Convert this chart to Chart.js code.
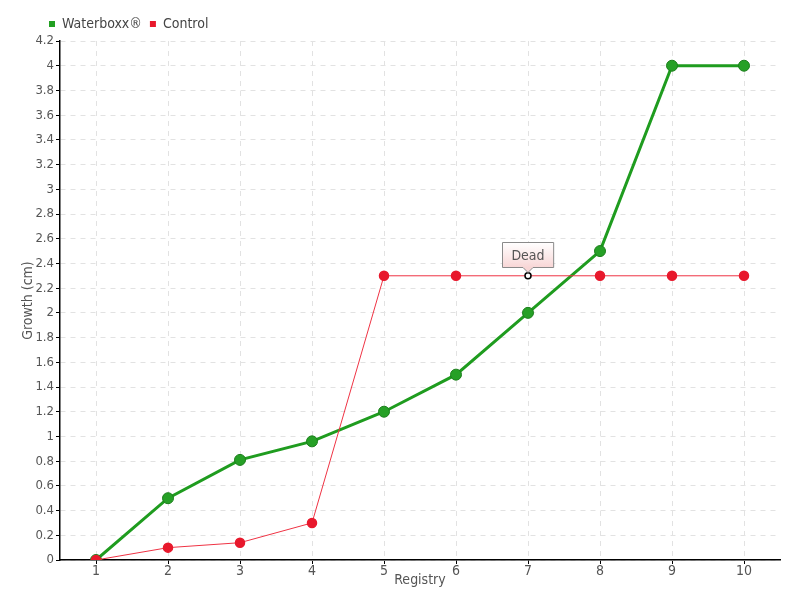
<!DOCTYPE html>
<html lang="en">
<head>
    <meta charset="UTF-8">
    <title>Waterboxx growth</title>
    <script src="https://cdn.jsdelivr.net/npm/chart.js"></script>
    <style>
        html, body { margin: 0; padding: 0; background: #fff; }
        #wrap { width: 800px; height: 600px; }
    </style>
</head>
<body>
    <div id="wrap"><canvas id="growthChart"></canvas></div>

    <script>
        const registry = ["1", "2", "3", "4", "5", "6", "7", "8", "9", "10"];
        const waterboxx = [0, 0.5, 0.81, 0.96, 1.2, 1.5, 2.0, 2.5, 4.0, 4.0];
        const control = [0, 0.1, 0.14, 0.3, 2.3, 2.3, 2.3, 2.3, 2.3, 2.3];
        const noteIndex = 6;
        const noteText = "Dead";

        const fontFamily = "'Liberation Sans Narrow', 'DejaVu Sans Condensed', 'DejaVu Sans', sans-serif";

        // hollow marker on the "Dead" point
        const controlFill = control.map((v, i) => i === noteIndex ? "#ffffff" : "#e8182c");
        const controlBorder = control.map((v, i) => i === noteIndex ? "#000000" : "#e8182c");
        const controlRadius = control.map((v, i) => i === noteIndex ? 3 : 4.5);

        // draws the little callout over the control point
        const notePlugin = {
            id: "note",
            afterLayout(chart) {
                // legend starts a bit in from the left edge
                chart.legend.left += 41;
                chart.legend.right += 41;
            },
            afterDatasetsDraw(chart) {
                const ctx = chart.ctx;
                const x = chart.scales.x.getPixelForValue(noteIndex);
                const y = chart.scales.y.getPixelForValue(control[noteIndex]);
                ctx.save();
                ctx.font = "14px " + fontFamily;
                const w = ctx.measureText(noteText).width + 18;
                const h = 25;
                const left = Math.round(x - w / 2) + 0.5, top = Math.round(y - 9 - h) + 0.5;
                const grad = ctx.createLinearGradient(0, top, 0, top + h);
                grad.addColorStop(0, "#ffffff");
                grad.addColorStop(1, "#f8d6d6");
                ctx.beginPath();
                ctx.moveTo(left, top);
                ctx.lineTo(left + w, top);
                ctx.lineTo(left + w, top + h);
                ctx.lineTo(x + 5, top + h);
                ctx.lineTo(x, top + h + 5);
                ctx.lineTo(x - 5, top + h);
                ctx.lineTo(left, top + h);
                ctx.closePath();
                ctx.fillStyle = grad;
                ctx.fill();
                ctx.strokeStyle = "#8a8a8a";
                ctx.lineWidth = 1;
                ctx.stroke();
                ctx.fillStyle = "#555";
                ctx.textAlign = "center";
                ctx.textBaseline = "middle";
                ctx.fillText(noteText, x, top + h / 2 + 1);
                ctx.restore();
            }
        };

        Chart.defaults.font.family = fontFamily;
        Chart.defaults.color = "#555";

        new Chart(document.getElementById("growthChart"), {
            type: "line",
            data: {
                labels: registry,
                datasets: [
                    {
                        label: "Waterboxx®",
                        data: waterboxx,
                        borderColor: "#1f9c1f",
                        backgroundColor: "#22a022",
                        borderWidth: 3,
                        pointRadius: 5.5,
                        pointBackgroundColor: "#26a026",
                        pointBorderColor: "#1b7f1b",
                        pointBorderWidth: 1,
                        tension: 0,
                        order: 2
                    },
                    {
                        label: "Control",
                        data: control,
                        borderColor: "#ef3344",
                        backgroundColor: "#e8182c",
                        borderWidth: 1,
                        pointRadius: controlRadius,
                        pointBackgroundColor: controlFill,
                        pointBorderColor: controlBorder,
                        pointBorderWidth: 1.5,
                        tension: 0,
                        order: 1
                    }
                ]
            },
            options: {
                responsive: true,
                maintainAspectRatio: false,
                animation: false,
                layout: { padding: { left: 0, right: 20, top: 9, bottom: 0 } },
                plugins: {
                    legend: {
                        position: "top",
                        align: "start",
                        labels: {
                            boxWidth: 6,
                            boxHeight: 6,
                            padding: 8,
                            color: "#444",
                            font: { size: 14 },
                            sort: (a, b) => a.datasetIndex - b.datasetIndex,
                            generateLabels: (chart) => Chart.defaults.plugins.legend.labels.generateLabels(chart)
                                .map(item => Object.assign(item, { lineWidth: 0, strokeStyle: "transparent" }))
                        }
                    },
                    tooltip: { enabled: false }
                },
                scales: {
                    x: {
                        offset: true,
                        grid: { color: "#e2e2e2", offset: false, tickColor: "#000", tickLength: 4 },
                        border: { color: "#000", width: 1.5, dash: [5, 5] },
                        ticks: { color: "#555", font: { size: 14 }, padding: -1 },
                        title: { display: true, text: "Registry", color: "#555", font: { size: 14 }, padding: { top: 0, bottom: 11 } },
                        afterFit: (scale) => { scale.height = 40; }
                    },
                    y: {
                        min: 0,
                        max: 4.2,
                        ticks: { stepSize: 0.2, color: "#555", font: { size: 13 }, padding: 2,
                                 callback: (v) => Math.round(v * 10) / 10 },
                        grid: { color: "#e2e2e2", tickColor: "#000", tickLength: 4 },
                        border: { color: "#000", width: 1.5, dash: [5, 5] },
                        title: { display: true, text: "Growth (cm)", color: "#555", font: { size: 14 }, padding: { top: 20, bottom: 0 } },
                        afterFit: (scale) => { scale.width = 60; }
                    }
                }
            },
            plugins: [notePlugin]
        });
    </script>
</body>
</html>
